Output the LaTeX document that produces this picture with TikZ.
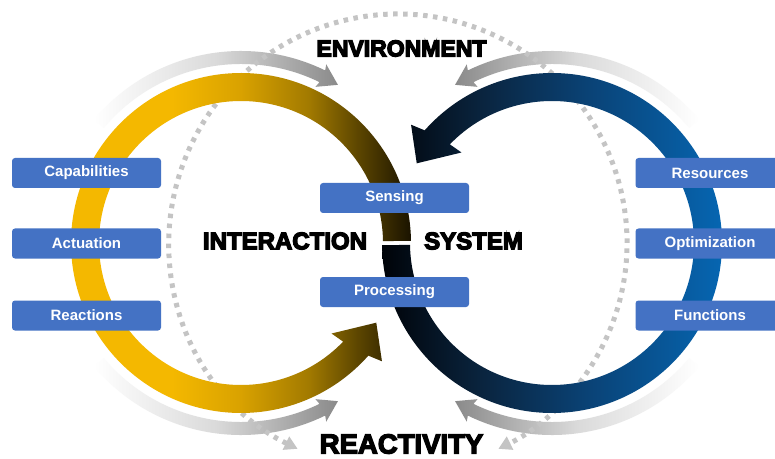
\documentclass[tikz,border=0pt]{standalone}
\usepackage{fontspec}
\setmainfont{Liberation Sans}
\newfontfamily\heavyfont{Liberation Sans Bold}
\newcommand\thickword[1]{\special{pdf:literal direct 2 Tr 1.3 w}#1\special{pdf:literal direct 0 Tr 1 w}}
\usetikzlibrary{calc,arrows.meta}
\definecolor{boxblue}{HTML}{4472C4}
\definecolor{yA}{HTML}{F4B800}
\definecolor{yB}{HTML}{D9A200}
\definecolor{yC}{HTML}{A27A00}
\definecolor{yD}{HTML}{5E4700}
\definecolor{yE}{HTML}{1A1300}
\definecolor{bA}{HTML}{000308}
\definecolor{bB}{HTML}{0A2540}
\definecolor{bC}{HTML}{0A4275}
\definecolor{bD}{HTML}{0666B2}
\definecolor{gA}{HTML}{8A8A8A}
\definecolor{gB}{HTML}{DADADA}
\definecolor{dotgray}{HTML}{C4C4C4}
\pgfdeclarehorizontalshading{ygrad}{100bp}{color(0bp)=(yA); color(25bp)=(yA); color(40bp)=(yA); color(50bp)=(yB); color(60bp)=(yC); color(67bp)=(yD); color(75bp)=(yE); color(100bp)=(yE)}
\pgfdeclarehorizontalshading{bgrad}{100bp}{color(0bp)=(bA); color(25bp)=(bA); color(40bp)=(bB); color(55bp)=(bC); color(75bp)=(bD); color(100bp)=(bD)}
\pgfdeclarehorizontalshading{glgrad}{100bp}{color(0bp)=(white); color(25bp)=(white); color(50bp)=(gB); color(75bp)=(gA); color(100bp)=(gA)}
\pgfdeclarehorizontalshading{grgrad}{100bp}{color(0bp)=(gA); color(25bp)=(gA); color(50bp)=(gB); color(75bp)=(white); color(100bp)=(white)}
\tikzset{
  tagbox/.style={rectangle, rounded corners=3pt, fill=boxblue, minimum width=149pt, minimum height=30pt, inner sep=0pt, text=white, font=\bfseries\fontsize{15}{18}\selectfont},
  bigword/.style={inner sep=0pt, text=black},
  dotarc/.style={draw=dotgray, line width=5pt, dash pattern=on 4.5pt off 5.5pt, {Triangle[length=13pt,width=14pt,fill=dotgray]}-{Triangle[length=13pt,width=14pt,fill=dotgray]}}
}
\begin{document}
\begin{tikzpicture}[x=1pt,y=1pt]
\path[use as bounding box, clip] (0,0) rectangle (775,458);
\fill[white] (0,0) rectangle (775,458);
\coordinate (YC) at (241,215);
\coordinate (BC) at (552,215);
\coordinate (DC) at (398,215);
% gray arcs
\shade[shading=glgrad] ($(YC)+(140:192)$) arc[start angle=140,end angle=64,radius=192] -- ($(YC)+(64.5:198)$) -- ($(YC)+(58.5:185.5)$) -- ($(YC)+(64.5:173)$) -- ($(YC)+(64:179)$) arc[start angle=64,end angle=140,radius=179] -- cycle;
\shade[shading=glgrad] ($(YC)+(220:192)$) arc[start angle=220,end angle=296,radius=192] -- ($(YC)+(295.5:198)$) -- ($(YC)+(301.5:185.5)$) -- ($(YC)+(295.5:173)$) -- ($(YC)+(296:179)$) arc[start angle=296,end angle=220,radius=179] -- cycle;
\shade[shading=grgrad] ($(BC)+(40:192)$) arc[start angle=40,end angle=116,radius=192] -- ($(BC)+(115.5:198)$) -- ($(BC)+(121.5:185.5)$) -- ($(BC)+(115.5:173)$) -- ($(BC)+(116:179)$) arc[start angle=116,end angle=40,radius=179] -- cycle;
\shade[shading=grgrad] ($(BC)+(320:192)$) arc[start angle=320,end angle=244,radius=192] -- ($(BC)+(244.5:198)$) -- ($(BC)+(238.5:185.5)$) -- ($(BC)+(244.5:173)$) -- ($(BC)+(244:179)$) arc[start angle=244,end angle=320,radius=179] -- cycle;
% dotted loop
\draw[dotarc] ($(DC)+(244:229)$) arc[start angle=244,end angle=-64,radius=229];
% yellow ring
\shade[shading=ygrad] ($(YC)+(0.75:170)$) arc[start angle=0.75,end angle=318.5,radius=170] -- ($(YC)+(320:184)$) -- ($(YC)+(329.5:157)$) -- ($(YC)+(315:128)$) -- ($(YC)+(316:142)$) arc[start angle=316,end angle=0.75,radius=142] -- cycle;
% blue ring
\shade[shading=bgrad] ($(BC)+(180.75:170)$) arc[start angle=180.75,end angle=498.5,radius=170] -- ($(BC)+(500:184)$) -- ($(BC)+(509.5:157)$) -- ($(BC)+(495:128)$) -- ($(BC)+(496:142)$) arc[start angle=496,end angle=180.75,radius=142] -- cycle;
% boxes
\node[tagbox] (cap) at (86.5,285) {Capabilities};
\node[tagbox] (act) at (86.5,214.5) {Actuation};
\node[tagbox] (rea) at (86.5,142.5) {Reactions};
\node[tagbox] (res) at (710,285) {Resources};
\node[tagbox] (opt) at (710,214.5) {Optimization};
\node[tagbox] (fun) at (710,142.5) {Functions};
\node[tagbox] (sen) at (394.5,260) {Sensing};
\node[tagbox] (pro) at (394.5,166) {Processing};
% words
\node[bigword, font=\heavyfont\fontsize{23}{26}\selectfont] (env) at (401.5,409.5) {\thickword{ENVIRONMENT}};
\node[bigword, font=\heavyfont\fontsize{27.5}{32}\selectfont] (rct) at (401.5,14) {\thickword{REACTIVITY}};
\node[bigword, font=\heavyfont\fontsize{24}{28}\selectfont] (int) at (285,217) {\thickword{INTERACTION}};
\node[bigword, font=\heavyfont\fontsize{24}{28}\selectfont] (sys) at (473.5,217) {\thickword{SYSTEM}};
\end{tikzpicture}
\end{document}
